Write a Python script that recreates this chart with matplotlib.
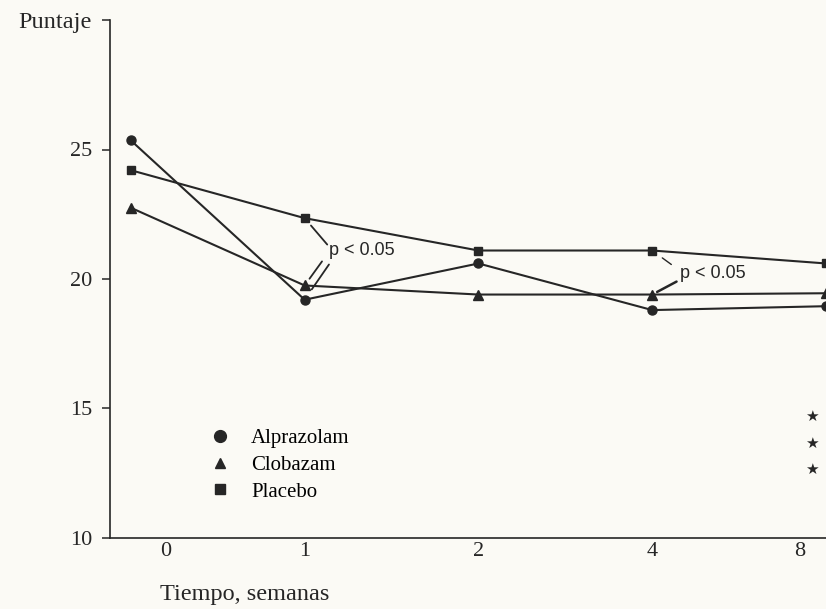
import matplotlib.pyplot as plt
from matplotlib.lines import Line2D

# values (score vs. week)
weeks = ['0', '1', '2', '4', '8']
alprazolam = [25.35, 19.2, 20.6, 18.8, 18.95]
clobazam = [22.75, 19.75, 19.4, 19.4, 19.45]
placebo = [24.2, 22.35, 21.1, 21.1, 20.6]
y_ticks = [10, 15, 20, 25, 30]
y_tick_labels = ['10', '15', '20', '25', 'Puntaje']

ink = '#262626'
paper = '#fbfaf5'
serif = 'Liberation Serif'
sans = 'Liberation Sans'

fig = plt.figure(figsize=(8.26, 6.09), dpi=100, facecolor=paper)
ax = fig.add_axes([110 / 826, 71 / 609, 716 / 826, 518 / 609])
ax.set_facecolor(paper)

xs = list(range(len(weeks)))
ax.plot(xs, alprazolam, color=ink, lw=1.5, marker='o', ms=6.5, mfc=ink, mec=ink)
ax.plot(xs, clobazam, color=ink, lw=1.5, marker='^', ms=7, mfc=ink, mec=ink)
ax.plot(xs, placebo, color=ink, lw=1.5, marker='s', ms=6, mfc=ink, mec=ink)

ax.set_xlim(-0.12, 4.0)
ax.set_ylim(10, 30)

# axes look
for side in ['top', 'right']:
    ax.spines[side].set_visible(False)
for side in ['left', 'bottom']:
    ax.spines[side].set_color(ink)
    ax.spines[side].set_linewidth(1.2)

ax.set_yticks(y_ticks)
ax.set_yticklabels(y_tick_labels, family=serif, fontsize=16, color=ink)
ax.get_yticklabels()[-1].set_fontsize(17.5)
ax.tick_params(axis='y', length=6, width=1.1, color=ink, pad=7)

# x tick labels sit a little off the points in the original
ax.set_xticks([0.2, 1.0, 2.0, 3.0, 3.85])
ax.set_xticklabels(weeks, family=serif, fontsize=16, color=ink)
ax.tick_params(axis='x', length=0, pad=3)

ax.set_xlabel('Tiempo, semanas', family=serif, fontsize=17.5, color=ink, ha='left', va='center')
ax.xaxis.set_label_coords(0.07, -0.11)

# significance notes
ax.text(1.14, 21.1, 'p < 0.05', family=sans, fontsize=13, color=ink, va='center')
ax.text(3.16, 20.21, 'p < 0.05', family=sans, fontsize=13, color=ink, va='center')
line = dict(arrowstyle='-', color=ink, lw=1.3, shrinkA=0)
ax.annotate('', xy=(1, placebo[1]), xytext=(1.13, 21.33), arrowprops=dict(line, shrinkB=7))
ax.annotate('', xy=(1, clobazam[1]), xytext=(1.10, 20.68), arrowprops=dict(line, shrinkB=6))
ax.annotate('', xy=(1, alprazolam[1]), xytext=(1.14, 20.56), arrowprops=dict(line, shrinkB=9))
ax.annotate('', xy=(3, placebo[3]), xytext=(3.11, 20.56), arrowprops=dict(line, lw=1.0, shrinkB=9))
ax.annotate('', xy=(3, clobazam[3]), xytext=(3.14, 19.9), arrowprops=dict(line, lw=1.8, shrinkB=4))

for yf in [0.234, 0.183, 0.133]:
    ax.text(0.98, yf, '\u2605', transform=ax.transAxes, family='DejaVu Sans', fontsize=11,
            color=ink, ha='center', va='center')

handles = [
    Line2D([], [], ls='none', marker='o', ms=8.5, color=ink),
    Line2D([], [], ls='none', marker='^', ms=7.5, color=ink),
    Line2D([], [], ls='none', marker='s', ms=7.5, color=ink),
]
ax.legend(handles, ['Alprazolam', 'Clobazam', 'Placebo'], loc='upper left',
          bbox_to_anchor=(0.139, 0.211), frameon=False, borderpad=0, borderaxespad=0,
          handlelength=1.0, handletextpad=1.0, labelspacing=0.34,
          prop={'family': serif, 'size': 15})

fig.savefig('out.png', dpi=100, facecolor=paper)
